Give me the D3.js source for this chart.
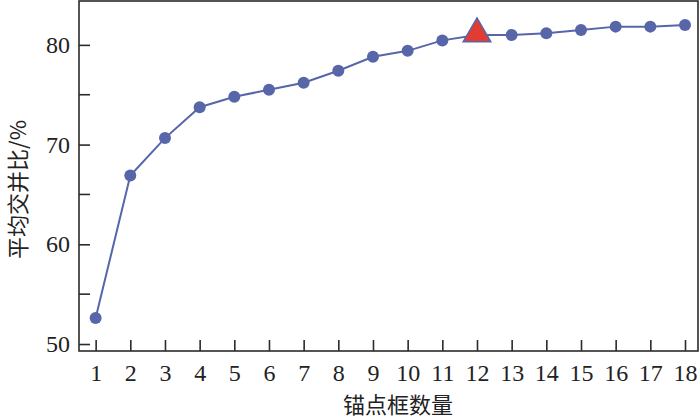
<!DOCTYPE html>
<html>
<head>
<meta charset="utf-8">
<script src="https://cdn.jsdelivr.net/npm/d3@7"></script>
<style>
	body { margin: 0; background: #fff; }
	svg { display: block; }
	.tick text { font-family: 'Liberation Serif', 'DejaVu Serif', serif; font-size: 24px; fill: #222; }
	.axis-title { font-family: 'Noto Sans CJK SC', sans-serif; font-size: 22px; fill: #222; }
</style>
</head>
<body>
<div id="chart"></div>
<script>
// anchor counts and mean IoU (%)
const anchors = [1, 2, 3, 4, 5, 6, 7, 8, 9, 10, 11, 12, 13, 14, 15, 16, 17, 18];
const meanIoU = [52.6, 66.9, 70.65, 73.75, 74.8, 75.5, 76.2, 77.4, 78.8, 79.4, 80.45, 81.0, 81.0, 81.17, 81.5, 81.83, 81.83, 82.0];
const bestIndex = 11; // 12 anchors, drawn as triangle
const yTickValues = [50, 60, 70, 80];
const yMinorTicks = [55, 65, 75];

const width = 700;
const height = 420;
const margin = { top: 1, right: 2, bottom: 69, left: 79 };
const blue = '#5666a9';
const red = '#e23b32';
const axisColour = '#2b2b2b';

const x = d3.scaleLinear()
	.domain([0.52, 18.375])
	.range([margin.left, width - margin.right]);

const y = d3.scaleLinear()
	.domain([49.3, 84.4])
	.range([height - margin.bottom, margin.top]);

const svg = d3.select('#chart')
	.append('svg')
	.attr('width', width)
	.attr('height', height);

// frame
svg.append('rect')
	.attr('x', margin.left)
	.attr('y', margin.top)
	.attr('width', width - margin.right - margin.left)
	.attr('height', height - margin.bottom - margin.top)
	.attr('fill', 'none')
	.attr('stroke', axisColour)
	.attr('stroke-width', 1.6);

// x axis, ticks pointing inward
svg.append('g')
	.attr('transform', `translate(0, ${height - margin.bottom})`)
	.call(d3.axisBottom(x)
		.tickValues(anchors)
		.tickSizeInner(-11)
		.tickSizeOuter(0)
		.tickPadding(13)
		.tickFormat(d3.format('d'))
	)
	.call(g => g.select('.domain').remove())
	.call(g => g.selectAll('.tick line').attr('stroke', axisColour).attr('stroke-width', 1.6));

// y axis
svg.append('g')
	.attr('transform', `translate(${margin.left}, 0)`)
	.call(d3.axisLeft(y)
		.tickValues(yTickValues)
		.tickSizeInner(-11)
		.tickSizeOuter(0)
		.tickPadding(9)
	)
	.call(g => g.select('.domain').remove())
	.call(g => g.selectAll('.tick line').attr('stroke', axisColour).attr('stroke-width', 1.6));

// minor y ticks
svg.append('g')
	.selectAll('line')
	.data(yMinorTicks)
	.join('line')
	.attr('x1', margin.left)
	.attr('x2', margin.left + 11)
	.attr('y1', d => y(d))
	.attr('y2', d => y(d))
	.attr('stroke', axisColour)
	.attr('stroke-width', 1.6);

// line
const points = anchors.map((a, i) => ({ a, v: meanIoU[i] }));

svg.append('path')
	.datum(points)
	.attr('fill', 'none')
	.attr('stroke', blue)
	.attr('stroke-width', 2)
	.attr('d', d3.line()
		.x(d => x(d.a))
		.y(d => y(d.v))
	);

// circle markers
svg.append('g')
	.selectAll('circle')
	.data(points.filter((d, i) => i !== bestIndex))
	.join('circle')
	.attr('cx', d => x(d.a))
	.attr('cy', d => y(d.v))
	.attr('r', 6)
	.attr('fill', blue);

// best one gets a big red triangle
const best = points[bestIndex];
svg.append('path')
	.attr('d', d3.symbol().type(d3.symbolTriangle).size(330)())
	.attr('transform', `translate(${x(best.a)}, ${y(best.v) - 1})`)
	.attr('fill', red)
	.attr('stroke', blue)
	.attr('stroke-width', 1.5);

// axis titles
svg.append('text')
	.attr('class', 'axis-title')
	.attr('text-anchor', 'middle')
	.attr('x', 398)
	.attr('y', 413)
	.text('锚点框数量');

svg.append('text')
	.attr('class', 'axis-title')
	.attr('text-anchor', 'middle')
	.attr('transform', `translate(26, ${y(65.5)}) rotate(-90)`)
	.text('平均交并比/%');
</script>
</body>
</html>
